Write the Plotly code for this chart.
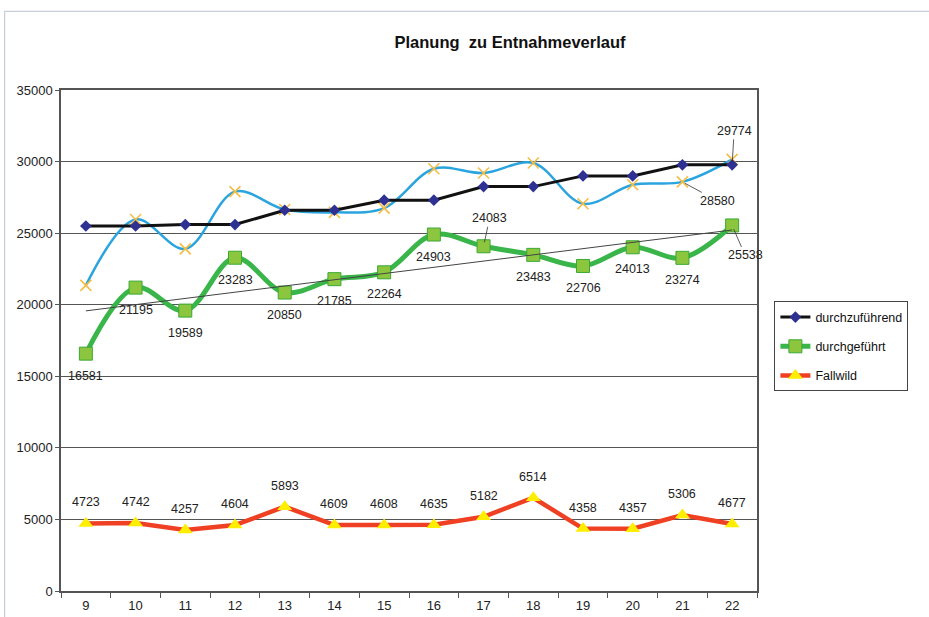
import numpy as np
import plotly.graph_objects as go

# Jahre (x-Achse)
jahre = [9, 10, 11, 12, 13, 14, 15, 16, 17, 18, 19, 20, 21, 22]

# Soll-Abschuss
durchzufuehrend = [25500, 25500, 25600, 25600, 26600, 26600, 27300, 27300, 28250, 28250,
                   29000, 29000, 29774, 29774]
# Ist-Abschuss
durchgefuehrt = [16581, 21195, 19589, 23283, 20850, 21785, 22264, 24903, 24083, 23483,
                 22706, 24013, 23274, 25538]
# Gesamtentnahme (geglättete blaue Linie)
gesamt = [21350, 25950, 23900, 27900, 26650, 26450, 26750, 29500, 29200, 29900,
          27050, 28380, 28580, 30150]
# Fallwild
fallwild = [4723, 4742, 4257, 4604, 5893, 4609, 4608, 4635, 5182, 6514,
            4358, 4357, 5306, 4677]

y_ticks = [0, 5000, 10000, 15000, 20000, 25000, 30000, 35000]

# lineare Trendlinie zu "durchgeführt"
xi = np.array(jahre, dtype=float)
steigung, achsenabschnitt = np.polyfit(xi, durchgefuehrt, 1)
trend = achsenabschnitt + steigung * xi

FONT = "Liberation Sans, Arial, sans-serif"

fig = go.Figure()

fig.add_trace(go.Scatter(
    x=jahre, y=gesamt, mode="lines+markers", showlegend=False,
    line=dict(color="#2aa4de", width=2.5, shape="spline", smoothing=1.0),
    marker=dict(symbol="x-thin", size=11, line=dict(color="#f5bd45", width=1.6)),
))
fig.add_trace(go.Scatter(
    x=jahre, y=durchzufuehrend, mode="lines+markers", name="durchzuführend",
    legendgroup="a",
    line=dict(color="#111111", width=3),
    marker=dict(symbol="diamond", size=9, color="#2e3192"),
))
fig.add_trace(go.Scatter(
    x=jahre, y=durchgefuehrt, mode="lines+markers", name="durchgeführt",
    legendgroup="b",
    line=dict(color="#39b54a", width=5, shape="spline", smoothing=1.0),
    marker=dict(symbol="square", size=13, color="#8cc63f", line=dict(color="#3aa935", width=1)),
))
fig.add_trace(go.Scatter(
    x=jahre, y=trend, mode="lines", showlegend=False, hoverinfo="skip",
    line=dict(color="#444444", width=1),
))
fig.add_trace(go.Scatter(
    x=jahre, y=fallwild, mode="lines+markers", name="Fallwild",
    legendgroup="c",
    line=dict(color="#ef4023", width=4.5),
    marker=dict(symbol="triangle-up", size=13, color="#ffee00"),
))

annotations = []
lbl_font = dict(family=FONT, size=12.5, color="#222222")

# Beschriftungen "durchgeführt" (unterhalb, zwei mit Hinweislinie)
for j, v in zip(jahre, durchgefuehrt):
    if j == 17:
        annotations.append(dict(x=j, y=v, text=str(v), showarrow=True, arrowhead=0,
                                arrowwidth=0.8, arrowcolor="#333", ax=6, ay=-28,
                                standoff=4, font=lbl_font))
    elif j == 22:
        annotations.append(dict(x=j, y=v, text=str(v), showarrow=True, arrowhead=0,
                                arrowwidth=0.8, arrowcolor="#333", ax=13, ay=30,
                                standoff=4, font=lbl_font))
    else:
        annotations.append(dict(x=j, y=v, text=str(v), showarrow=False, yshift=-22,
                                font=lbl_font))

# Beschriftungen Fallwild (oberhalb)
for j, v in zip(jahre, fallwild):
    annotations.append(dict(x=j, y=v, text=str(v), showarrow=False, yshift=21,
                            font=lbl_font))

# Einzelwerte mit Hinweislinie
annotations.append(dict(x=jahre[12], y=gesamt[12], text=str(gesamt[12]), showarrow=True,
                        arrowhead=0, arrowwidth=0.8, arrowcolor="#333", ax=35, ay=19,
                        standoff=3, font=lbl_font))
annotations.append(dict(x=jahre[13], y=durchzufuehrend[13], text=str(durchzufuehrend[13]),
                        showarrow=True, arrowhead=0, arrowwidth=0.8, arrowcolor="#333",
                        ax=2, ay=-34, standoff=3, font=lbl_font))

fig.update_layout(
    width=929, height=617,
    margin=dict(l=61, r=172, t=90, b=26),
    paper_bgcolor="white", plot_bgcolor="white",
    font=dict(family=FONT, size=12, color="#222222"),
    title=dict(text="<b>Planung  zu Entnahmeverlauf</b>", x=0.549, xref="container",
               xanchor="center", y=0.932, yref="container", yanchor="middle",
               font=dict(family=FONT, size=16.5, color="#111111")),
    xaxis=dict(range=[jahre[0] - 0.5, jahre[-1] + 0.5], tickvals=jahre, ticks="",
               ticklabelstandoff=2, automargin=False,
               minor=dict(tick0=8.5, dtick=1, ticks="outside", ticklen=5,
                          tickcolor="#555", showgrid=False),
               showgrid=False, zeroline=False,
               showline=True, linecolor="#555", linewidth=1.5, mirror=True,
               tickfont=dict(size=13, color="#222")),
    yaxis=dict(range=[0, 35000], tickvals=y_ticks, tickformat="d", ticks="outside",
               ticklen=4, tickcolor="#555", showgrid=True, gridcolor="#555", gridwidth=1,
               showline=True, linecolor="#555", linewidth=1.5, mirror=True,
               zeroline=False, automargin=False, tickfont=dict(size=13, color="#222")),
    legend=dict(x=1.025, xanchor="left", y=0.578, yanchor="top",
                bordercolor="#444", borderwidth=1, bgcolor="white",
                font=dict(family=FONT, size=12.5, color="#111"),
                tracegroupgap=10, itemwidth=30),
    annotations=annotations,
    shapes=[dict(type="rect", xref="paper", yref="paper", x0=-0.081, x1=1.3,
                 y0=-0.1, y1=1.157, line=dict(color="#c5ceda", width=1.2),
                 layer="below")],
    showlegend=True,
)

fig.write_html("out.html")
